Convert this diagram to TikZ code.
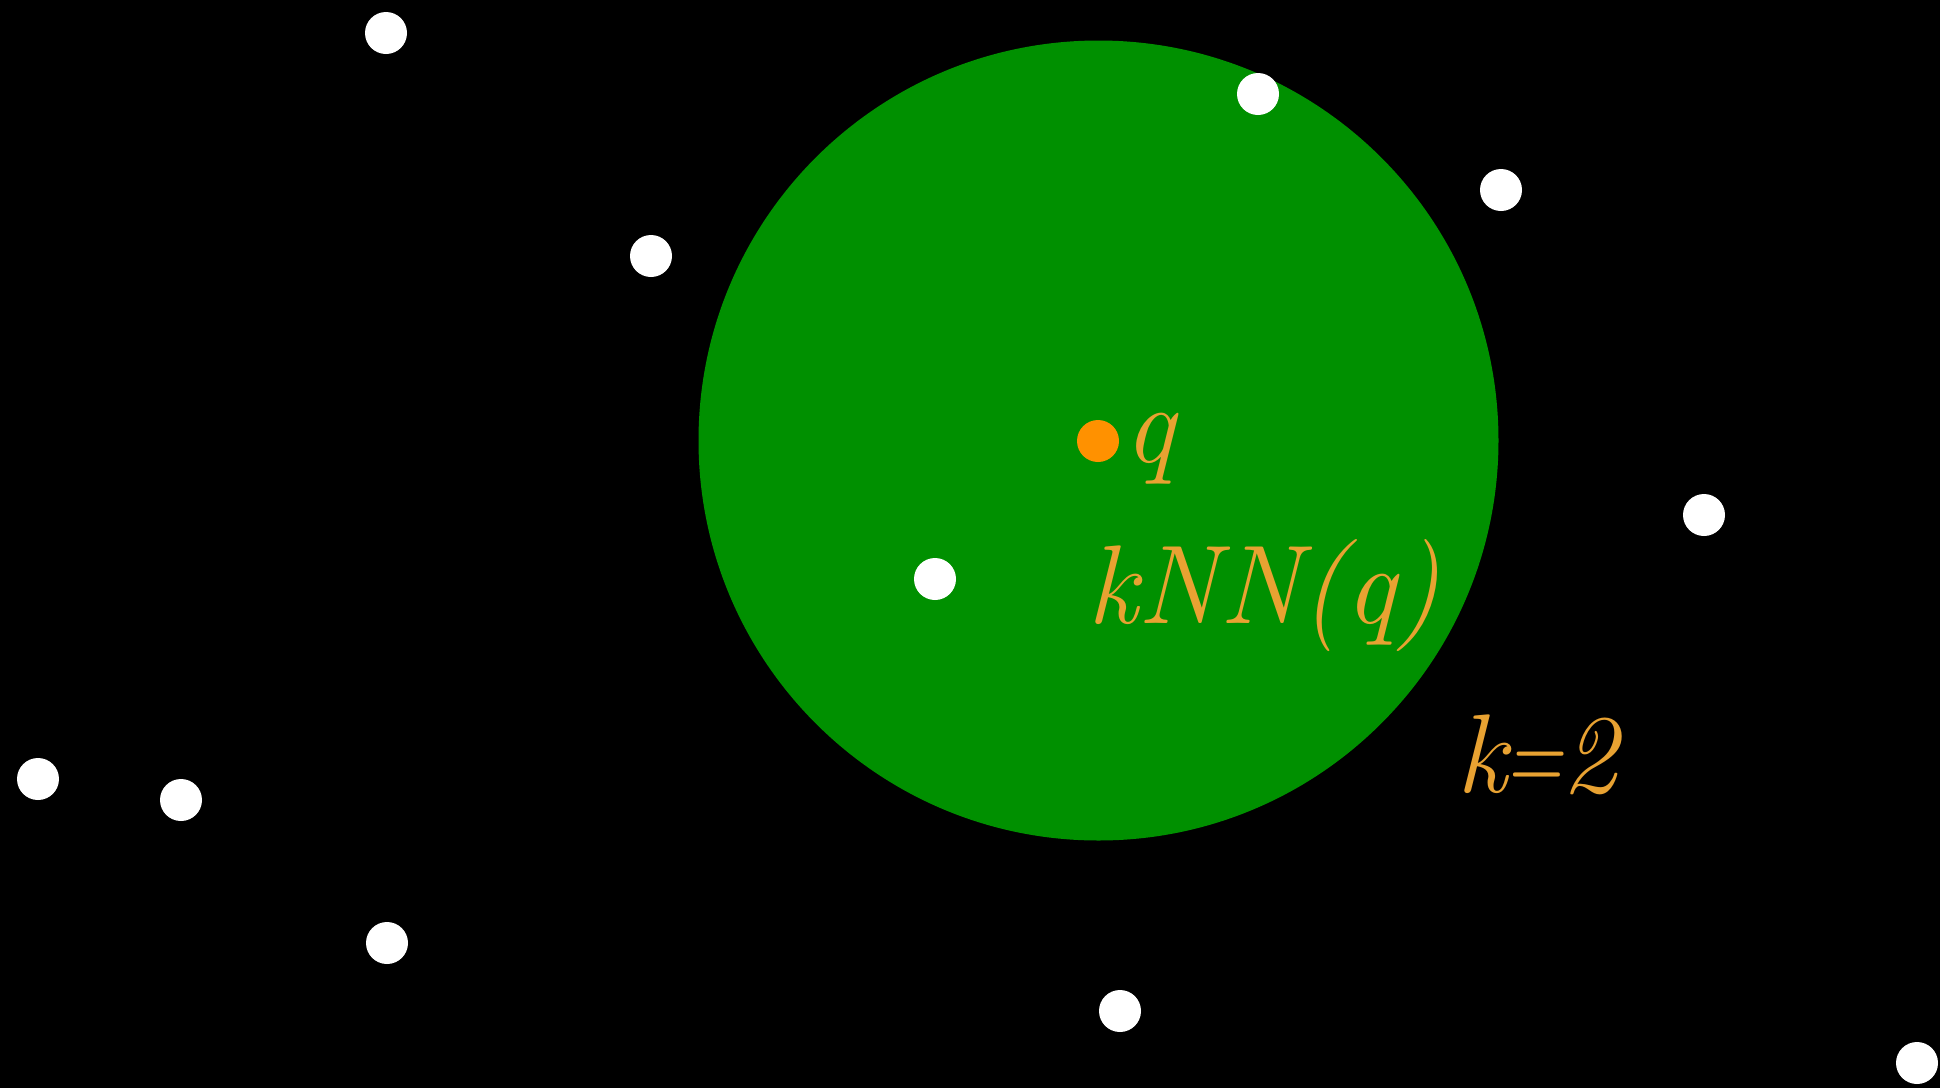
\documentclass[tikz,border=0pt]{standalone}
\usepackage{graphicx}
\definecolor{ballgreen}{RGB}{0,144,0}
\definecolor{qorange}{RGB}{255,145,0}
\definecolor{labelorange}{RGB}{232,162,50}
\begin{document}
\begin{tikzpicture}[x=0.5pt,y=-0.5pt,
  pt/.style={circle,fill=white,minimum size=21pt,inner sep=0pt},
  lbl/.style={text=labelorange,inner sep=0pt,anchor=base west,font=\fontsize{56}{60}\selectfont\itshape}]
\fill[black] (0,0) rectangle (1940,1088);
\useasboundingbox (0,0) rectangle (1940,1088);
\fill[ballgreen] (1098.5,440.5) circle (400);
\node[pt] (p1) at (386,33) {};
\node[pt] (p2) at (1258,94) {};
\node[pt] (p3) at (1501,190) {};
\node[pt] (p4) at (651,256) {};
\node[pt] (p5) at (1704,515) {};
\node[pt] (p6) at (935,579) {};
\node[pt] (p7) at (38,779) {};
\node[pt] (p8) at (181,800) {};
\node[pt] (p9) at (387,943) {};
\node[pt] (p10) at (1120,1011) {};
\node[pt] (p11) at (1917,1063) {};
\node[pt,fill=qorange] (q) at (1098,441) {};
\node[lbl] (qlab) at (1124,462) {q};
\node[lbl] (knn) at (1087,623) {kNN(q)};
\node[lbl] (k2) at (1456,792) {k\kern-0.02em\scalebox{0.7}[1]{=}\kern-0.02em2};
\end{tikzpicture}
\end{document}
